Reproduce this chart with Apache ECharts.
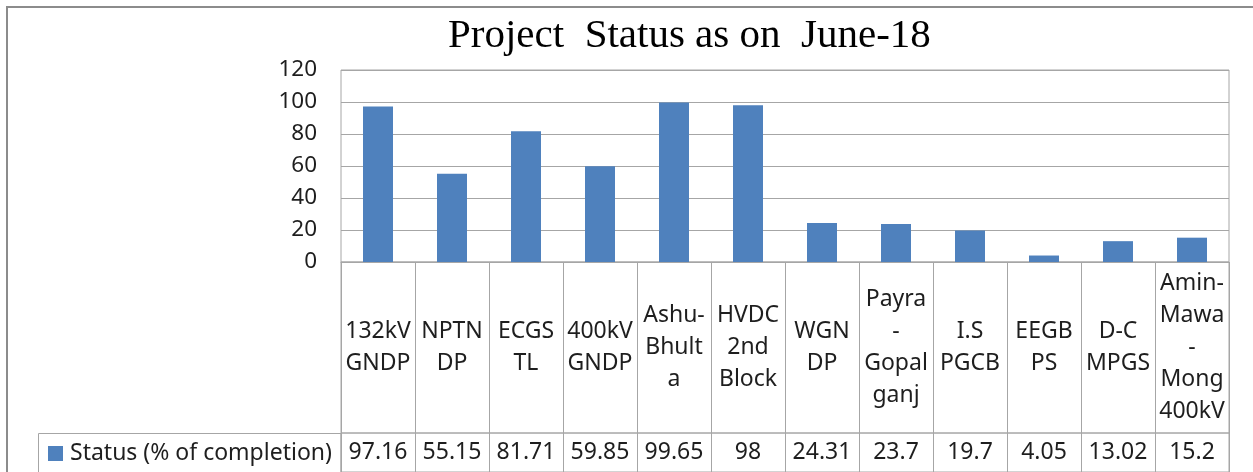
<!DOCTYPE html>
<html>
<head>
<meta charset="utf-8">
<script src="https://cdn.jsdelivr.net/npm/echarts@6/dist/echarts.min.js"></script>
<style>
  html, body { margin: 0; padding: 0; background: #fff; }
  #chart-container { width: 1253px; height: 472px; }
</style>
</head>
<body>
<div id="chart-container"></div>
<script>
// table column labels (line breaks as in the data table)
const categories = [
   "132kV\nGNDP",
   "NPTN\nDP",
   "ECGS\nTL",
   "400kV\nGNDP",
   "Ashu-\nBhult\na",
   "HVDC\n2nd\nBlock",
   "WGN\nDP",
   "Payra\n-\nGopal\nganj",
   "I.S\nPGCB",
   "EEGB\nPS",
   "D-C\nMPGS",
   "Amin-\nMawa\n-\nMong\n400kV"
];

// Status (% of completion)
const statusValues = [97.16, 55.15, 81.71, 59.85, 99.65, 98, 24.31, 23.7, 19.7, 4.05, 13.02, 15.2];

const seriesName = "Status (% of completion)";
const yTicks = { min: 0, max: 120, interval: 20 };

var dom = document.getElementById('chart-container');
var myChart = echarts.init(dom, null, { renderer: 'canvas' });

const lineGray = '#a6a6a6';
const textCol = '#1e1e1e';
const font = 'Noto Sans';

// filler values so every table cell gets one (hidden) bar to carry its label
const cellFill = categories.map(() => 1);

var option =
{
   animation: false,
   title:
   {
      text: 'Project  Status as on  June-18',
      left: 448,
      top: 16,
      padding: 0,
      textStyle: { fontFamily: 'Liberation Serif', fontSize: 41, fontWeight: 'normal', color: '#000' }
   },
   legend:
   {
      data: [seriesName],
      left: 48,
      top: 442,
      padding: 0,
      itemWidth: 15,
      itemHeight: 15,
      icon: 'rect',
      selectedMode: false,
      textStyle: { fontFamily: font, fontSize: 23, color: textCol, padding: [0, 0, 0, 2] }
   },
   grid:
   [
      { left: 341, top: 70, width: 888, height: 192, show: true, borderColor: lineGray, borderWidth: 1 },
      { left: 341, top: 262, width: 888, height: 171, show: true, borderColor: lineGray, borderWidth: 1 },
      { left: 341, top: 433, width: 888, height: 40, show: true, borderColor: lineGray, borderWidth: 1 }
   ],
   xAxis:
   [
      {
         type: 'category', gridIndex: 0, data: categories,
         axisLine: { lineStyle: { color: lineGray } },
         axisTick: { show: false }, axisLabel: { show: false }
      },
      {
         type: 'category', gridIndex: 1, data: categories,
         axisLine: { show: false }, axisTick: { show: false }, axisLabel: { show: false },
         splitLine: { show: true, interval: 0, lineStyle: { color: lineGray } }
      },
      {
         type: 'category', gridIndex: 2, data: categories,
         axisLine: { show: false }, axisTick: { show: false }, axisLabel: { show: false },
         splitLine: { show: true, interval: 0, lineStyle: { color: lineGray } }
      }
   ],
   yAxis:
   [
      {
         type: 'value', gridIndex: 0, min: yTicks.min, max: yTicks.max, interval: yTicks.interval,
         axisLine: { show: false }, axisTick: { show: false },
         axisLabel: { fontFamily: font, fontSize: 22.5, color: textCol, margin: 24 },
         splitLine: { lineStyle: { color: lineGray } }
      },
      { type: 'value', gridIndex: 1, min: 0, max: 1, show: false },
      { type: 'value', gridIndex: 2, min: 0, max: 1, show: false }
   ],
   series:
   [
      {
         name: seriesName,
         type: 'bar',
         xAxisIndex: 0, yAxisIndex: 0,
         data: statusValues,
         barWidth: 30,
         itemStyle: { color: '#4f81bd' },
         silent: true
      },
      {
         // category names row of the data table
         type: 'bar',
         xAxisIndex: 1, yAxisIndex: 1,
         data: cellFill,
         barWidth: '100%',
         itemStyle: { color: 'rgba(0,0,0,0)' },
         silent: true,
         label:
         {
            show: true, position: 'inside',
            formatter: p => categories[p.dataIndex],
            fontFamily: font, fontSize: 23, lineHeight: 32, color: textCol
         }
      },
      {
         // values row of the data table
         type: 'bar',
         xAxisIndex: 2, yAxisIndex: 2,
         data: cellFill,
         barWidth: '100%',
         itemStyle: { color: 'rgba(0,0,0,0)' },
         silent: true,
         label:
         {
            show: true, position: 'inside',
            formatter: p => String(statusValues[p.dataIndex]),
            fontFamily: font, fontSize: 23, color: textCol
         }
      }
   ],
   graphic:
   [
      // chart area border
      { type: 'rect', shape: { x: 7, y: 7, width: 1260, height: 480 }, style: { fill: null, stroke: '#8c8c8c', lineWidth: 2 }, silent: true },
      // legend cell of the data table
      { type: 'rect', shape: { x: 38.5, y: 433.5, width: 302.5, height: 60 }, style: { fill: null, stroke: lineGray, lineWidth: 1 }, silent: true }
   ]
};

myChart.setOption(option);
window.addEventListener('resize', myChart.resize);
</script>
</body>
</html>
